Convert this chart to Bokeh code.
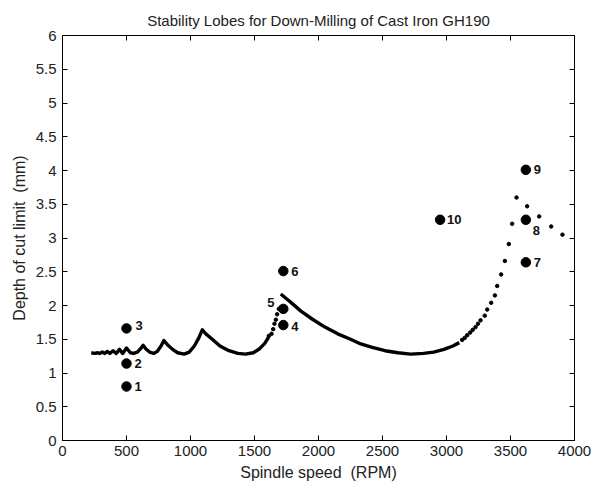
from bokeh.plotting import figure
from bokeh.models import (Range1d, FixedTicker, LinearAxis, CustomJSTickFormatter,
                          ColumnDataSource)
from bokeh.core.properties import value
from bokeh.embed import file_html
from bokeh.resources import INLINE

# Dense stability-lobe boundary (rpm, depth mm)
lobe_a_rpm = [225, 250, 275, 290, 310, 330, 350, 370, 395, 420, 445, 470, 500, 530, 555,
              585, 610, 630, 650, 680, 715, 740, 770, 792, 820, 860, 900, 950, 990, 1030,
              1065, 1092, 1120, 1170, 1230, 1300, 1370, 1430, 1490, 1540, 1580, 1610]
lobe_a_depth = [1.30, 1.29, 1.30, 1.29, 1.31, 1.29, 1.32, 1.29, 1.33, 1.29, 1.35, 1.29, 1.37, 1.30, 1.29,
                1.31, 1.36, 1.41, 1.36, 1.31, 1.29, 1.32, 1.40, 1.48, 1.42, 1.35, 1.30, 1.28, 1.31, 1.40,
                1.52, 1.64, 1.58, 1.50, 1.40, 1.33, 1.29, 1.28, 1.30, 1.36, 1.44, 1.53]
lobe_b_rpm = [1705, 1750, 1800, 1860, 1950, 2050, 2150, 2250, 2330, 2420, 2520, 2620, 2720,
              2820, 2900, 2980, 3050, 3100]
lobe_b_depth = [2.17, 2.10, 2.02, 1.92, 1.80, 1.68, 1.58, 1.50, 1.43, 1.38, 1.33, 1.30, 1.28,
                1.29, 1.31, 1.35, 1.40, 1.45]

# Sparse boundary points
sparse_rpm = [1612, 1633, 1646, 1656, 1667, 1677, 1690,
              3122, 3142, 3162, 3185, 3205, 3227, 3246, 3266, 3299, 3318, 3349, 3378, 3396,
              3427, 3456, 3487, 3513, 3547, 3630, 3724, 3818, 3906]
sparse_depth = [1.55, 1.58, 1.65, 1.73, 1.79, 1.87, 1.95,
                1.49, 1.52, 1.56, 1.60, 1.64, 1.68, 1.73, 1.78, 1.85, 1.94, 2.04, 2.15, 2.29,
                2.46, 2.66, 2.91, 3.21, 3.60, 3.47, 3.32, 3.17, 3.05]

# Test points
test_rpm = [500, 500, 500, 1725, 1725, 1725, 3620, 3620, 3620, 2950]
test_depth = [0.80, 1.14, 1.66, 1.71, 1.95, 2.51, 2.64, 3.27, 4.01, 3.27]
test_labels = ["1", "2", "3", "4", "5", "6", "7", "8", "9", "10"]

x_ticks = [0, 500, 1000, 1500, 2000, 2500, 3000, 3500, 4000]
y_ticks = [0, 0.5, 1, 1.5, 2, 2.5, 3, 3.5, 4, 4.5, 5, 5.5, 6]

# label offsets (layout, px)
lab_dx = [8, 8, 9, 8, -16, 8, 8, 7, 8, 7]
lab_dy = [0, 0, -3, 1, -6, 0, 0, 11, 0, 0]

p = figure(width=599, height=483, output_backend="svg", toolbar_location=None,
           x_range=Range1d(0, 4000), y_range=Range1d(0, 6),
           min_border_left=62, min_border_right=25, min_border_top=35, min_border_bottom=43,
           title="Stability Lobes for Down-Milling of Cast Iron GH190")
p.title.align = "center"
p.title.vertical_align = "top"
p.title.text_font = "Liberation Sans"
p.title.text_font_style = "normal"
p.title.text_font_size = "15px"
p.title.text_color = "#222222"
p.title.offset = 0
p.title.standoff = 10
p.xgrid.visible = False
p.ygrid.visible = False
p.outline_line_color = "black"
p.background_fill_color = "white"
p.border_fill_color = "white"

fmt = CustomJSTickFormatter(code="return tick.toString();")
for ax, ticks in ((p.xaxis[0], x_ticks), (p.yaxis[0], y_ticks)):
    ax.ticker = FixedTicker(ticks=ticks)
    ax.formatter = fmt
    ax.major_tick_in = 5
    ax.major_tick_out = 0
    ax.minor_tick_line_color = None
    ax.axis_line_color = "black"
    ax.major_tick_line_color = "black"
    ax.major_label_text_font = "Liberation Sans"
    ax.major_label_text_font_size = "15px"
    ax.major_label_text_color = "#222222"
    ax.axis_label_text_font = "Liberation Sans"
    ax.axis_label_text_font_size = "16px"
    ax.axis_label_text_font_style = "normal"
    ax.axis_label_text_color = "#222222"
p.xaxis[0].axis_label = "Spindle speed\u00a0\u00a0(RPM)"
p.yaxis[0].axis_label = "Depth of cut limit\u00a0\u00a0(mm)"
p.xaxis[0].major_label_standoff = 5
p.yaxis[0].major_label_standoff = 6
p.xaxis[0].axis_label_standoff = 5
p.yaxis[0].axis_label_standoff = 5

for loc, ticks in (("above", x_ticks), ("right", y_ticks)):
    ax = LinearAxis(ticker=FixedTicker(ticks=ticks), major_tick_in=5, major_tick_out=0,
                    minor_tick_line_color=None, major_label_text_font_size="0px",
                    major_label_standoff=0, axis_line_color="black", major_tick_line_color="black")
    p.add_layout(ax, loc)

p.line(lobe_a_rpm, lobe_a_depth, line_color="black", line_width=3.4, line_join="round")
p.line(lobe_b_rpm, lobe_b_depth, line_color="black", line_width=3.4, line_join="round")
p.scatter(sparse_rpm, sparse_depth, size=3.5, color="black")

src = ColumnDataSource(dict(x=test_rpm, y=test_depth, t=test_labels, dx=lab_dx, dy=lab_dy))
p.scatter("x", "y", source=src, size=9.5, color="black")
p.text("x", "y", text="t", source=src, x_offset="dx", y_offset="dy",
       text_font=value("Liberation Sans"), text_font_style="bold", text_font_size="13px",
       text_align="left", text_baseline="middle", text_color="#111111")

open("out.html", "w").write(file_html(p, INLINE))
